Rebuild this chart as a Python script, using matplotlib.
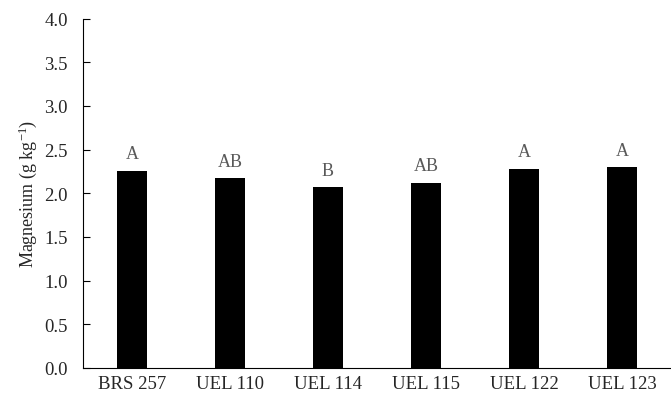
import matplotlib
matplotlib.use("Agg")
import matplotlib.pyplot as plt

categories = ["BRS 257", "UEL 110", "UEL 114", "UEL 115", "UEL 122", "UEL 123"]
values = [2.26, 2.17, 2.07, 2.12, 2.28, 2.30]
letters = ["A", "AB", "B", "AB", "A", "A"]
yticks = [0.0, 0.5, 1.0, 1.5, 2.0, 2.5, 3.0, 3.5, 4.0]

plt.rcParams['font.family'] = ['Liberation Serif', 'DejaVu Serif']
plt.rcParams['mathtext.fontset'] = 'custom'
plt.rcParams['mathtext.rm'] = 'Liberation Serif'
plt.rcParams['mathtext.it'] = 'Liberation Serif:italic'

fig = plt.figure(figsize=(6.71, 4.02), dpi=100)
ax = fig.add_axes([83/671, 1 - 369/402, 1 - 83/671, (369 - 19.5)/402])

x = list(range(len(categories)))
ax.bar(x, values, width=0.31, color='black')
for xi, v, l in zip(x, values, letters):
    ax.annotate(l, (xi, v), xytext=(0, 6), textcoords='offset points',
                ha='center', va='bottom', fontsize=13, color='#595959')

ax.set_xlim(-0.5, len(categories) - 0.5)
ax.set_ylim(0, 4.0)
ax.set_yticks(yticks)
ax.set_yticklabels([f"{t:.1f}" for t in yticks])
ax.set_xticks(x)
ax.set_xticklabels(categories)
ax.tick_params(axis='y', direction='in', length=5, width=0.8, labelsize=13.5,
               labelcolor='#262626', pad=11)
ax.tick_params(axis='x', length=0, labelsize=13.5, labelcolor='#262626', pad=5)
for s in ['top', 'right']:
    ax.spines[s].set_visible(False)
for s in ['left', 'bottom']:
    ax.spines[s].set_color('black')
    ax.spines[s].set_linewidth(0.8)
ax.set_ylabel(r'Magnesium (g kg$^{\mathregular{-1}}$)', fontsize=13, color='#262626', labelpad=4)

fig.savefig('out.png', dpi=100)
